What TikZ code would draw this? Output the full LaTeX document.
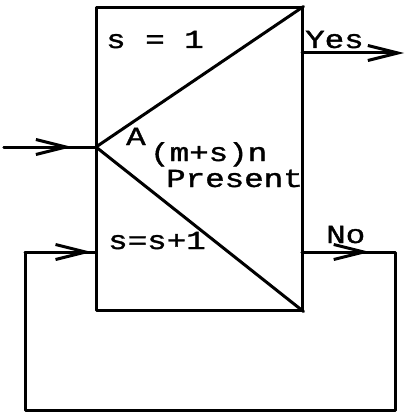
\documentclass[tikz,border=0pt]{standalone}
\usepackage{fontspec}
\newfontfamily\typewr[FakeBold=1.2]{Liberation Mono}
\usetikzlibrary{arrows.meta,calc}
\tikzset{
  lbl/.style={anchor=base west, inner sep=0pt, font=\typewr\fontsize{26}{26}\selectfont},
  barb/.style={-{Straight Barb[length=30pt,width=15pt,line width=3pt]}},
  wire/.style={line width=3pt, line join=round, line cap=round}
}
\newcommand{\widetxt}[1]{\scalebox{1.25}[1]{#1}}
\begin{document}
\begin{tikzpicture}[x=1pt,y=-1pt]
\useasboundingbox (0,0) rectangle (405,412);
\node[draw, wire, minimum width=206pt, minimum height=302pt, inner sep=0pt] (box) at (199,159) {};
\coordinate (apex) at (96,147);
\coordinate (in) at (4,147);
\coordinate (yesL) at (302,53);
\coordinate (yesR) at (404,53);
\coordinate (noL) at (302,252);
\coordinate (noR) at (395,252);
\coordinate (botR) at (395,410);
\coordinate (botL) at (25,410);
\coordinate (loopL) at (25,252);
\coordinate (loopIn) at (96,252);
% triangle
\draw[wire] (box.north east) -- (apex) -- (box.south east);
% input
\draw[wire] (in) -- (apex);
\draw[wire, barb] (in) -- ($(in)!0.74!(apex)$);
% yes
\draw[wire, barb] (yesL) -- (yesR);
% no loop
\draw[wire] (noL) -- (noR) -- (botR) -- (botL) -- (loopL) -- (loopIn);
\draw[wire, barb] (noL) -- ($(noL)!0.73!(noR)$);
\draw[wire, barb] (loopL) -- ($(loopL)!0.94!(loopIn)$);
% labels
\node[lbl] (s1) at (106,48) {\widetxt{s = 1}};
\node[lbl] (yes) at (305,48) {\widetxt{Yes}};
\node[lbl] (a) at (126,145) {\widetxt{A}};
\node[lbl] (mn) at (150,161) {\widetxt{(m+s)n}};
\node[lbl] (pr) at (166,187) {\widetxt{Present}};
\node[lbl] (ss) at (108,249) {\widetxt{s=s+1}};
\node[lbl] (no) at (326,243) {\widetxt{No}};
\end{tikzpicture}
\end{document}
